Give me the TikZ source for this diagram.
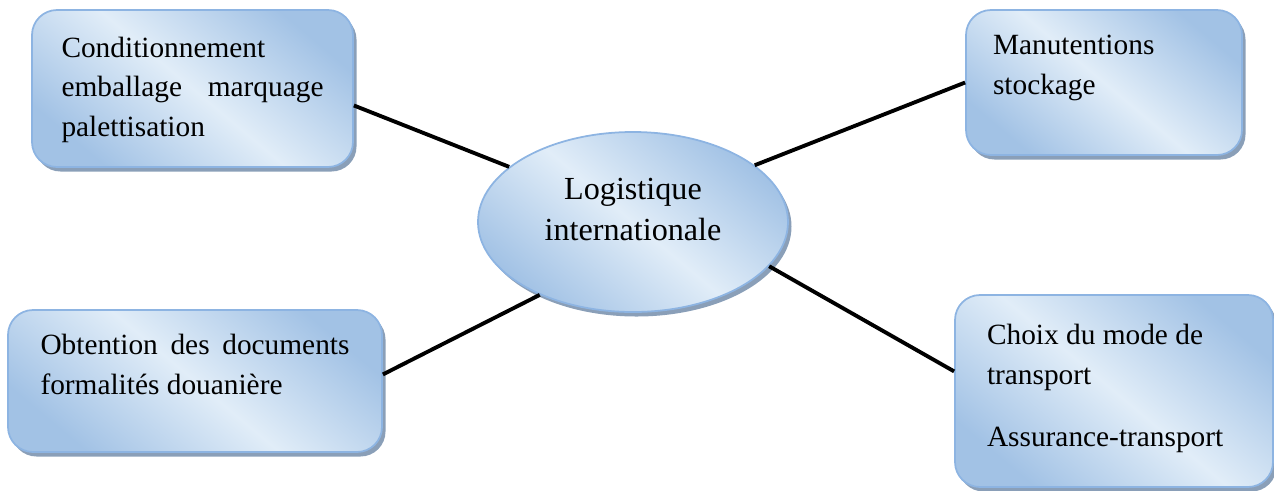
\documentclass[tikz,border=0pt]{standalone}
\usepackage{fontspec}
\setmainfont{Liberation Serif}
\usepackage{tikz}
\usepackage{xcolor}
\definecolor{BordBleu}  {HTML}{8DB4E2}
\definecolor{BleuFonce} {HTML}{A2C2E5}
\definecolor{BleuClair} {HTML}{E1EDF8}
\definecolor{OmbreBleue}{HTML}{8A9FB8}
\usetikzlibrary{positioning,shapes.geometric,shadows}
\hyphenpenalty=10000

\begin{document}
\begin{tikzpicture}[
          degrade/.style={draw=BordBleu,line width=1pt,
                          top color=BleuFonce,bottom color=BleuFonce,
                          middle color=BleuClair,shading angle=-40,
                          drop shadow={shadow xshift=0.07cm,shadow yshift=-0.09cm,
                                       fill=OmbreBleue,opacity=1}},
          boite/.style={degrade,rectangle,rounded corners=0.5cm,inner sep=0pt,
                        font=\fontsize{16.7}{22.5}\selectfont},
          bulle/.style={degrade,ellipse,inner sep=0pt,align=center,
                        minimum width=6.2cm,minimum height=3.6cm,
                        font=\fontsize{18.3}{23}\selectfont},
          lien/.style={draw=black,line width=2.2pt}]
        \useasboundingbox (0,0) rectangle (25.48,-9.8);
        \node[bulle,text depth=14.5pt] (centre) at (12.66,-4.44)
            {Logistique\\ internationale};
        \node[boite,minimum width=6.42cm,minimum height=3.14cm,
              text width=5.24cm,align=justify,text depth=47.4pt] (cond) at (3.85,-1.77)
            {Conditionnement emballage marquage palettisation};
        \node[boite,minimum width=5.52cm,minimum height=2.9cm,
              text width=4.44cm,align=flush left,text depth=42.5pt] (manu) at (22.08,-1.65)
            {Manutentions\\ stockage};
        \node[boite,minimum width=7.48cm,minimum height=2.84cm,
              text width=6.18cm,align=justify,text depth=41.2pt] (docs) at (3.9,-7.62)
            {Obtention des documents formalités douanière};
        \node[boite,minimum width=6.36cm,minimum height=3.84cm,
              text width=5.08cm,align=flush left,text depth=64pt] (trans) at (22.28,-7.82)
            {Choix du mode de\\ transport\\[13pt] Assurance-transport};
        \draw[lien] (cond.-6.6)--(centre.156) (manu.west)--(centre.25.6)
                    (docs.2.8)--(centre.-142.4) (trans.173.2)--(centre.-18.2);
      \end{tikzpicture}
\end{document}
